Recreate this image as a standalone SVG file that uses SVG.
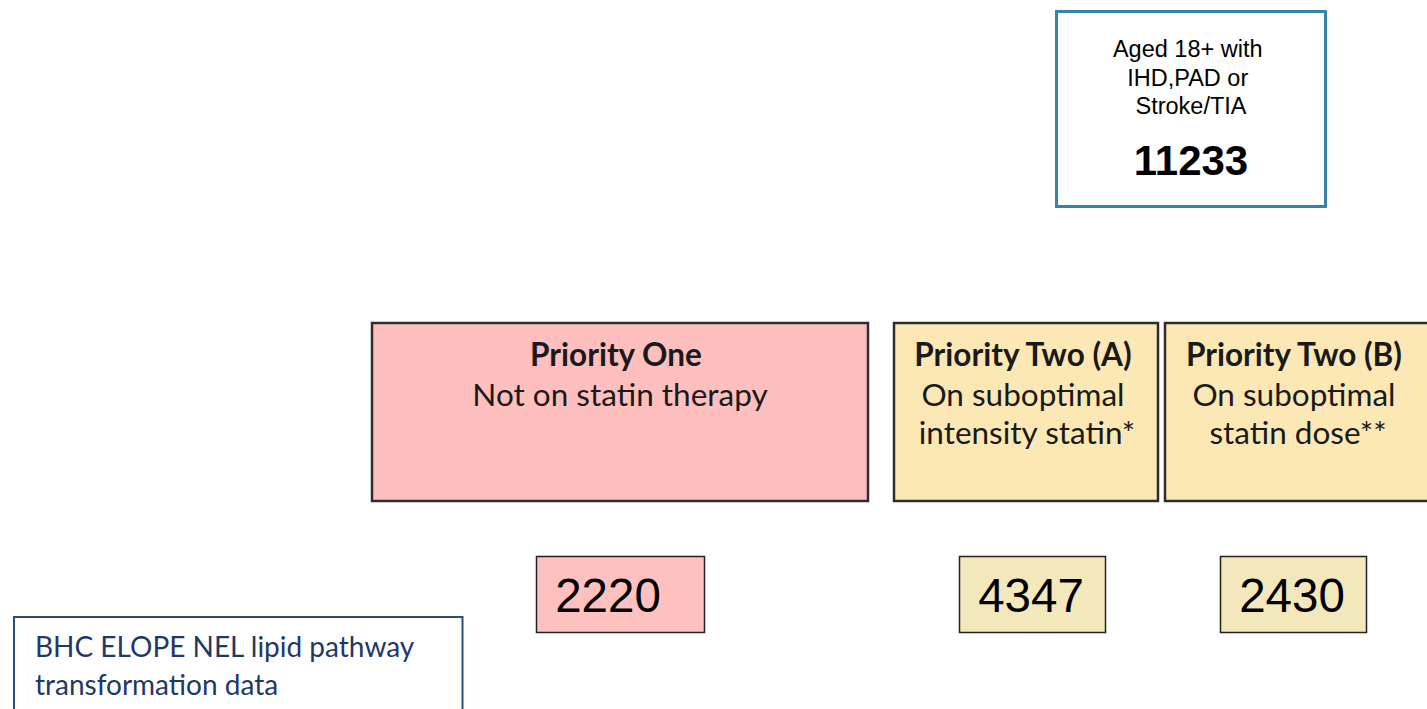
<svg xmlns="http://www.w3.org/2000/svg" width="1427" height="709" viewBox="0 0 1427 709">
  <style>
    .sans { font-family: "Liberation Sans", Arial, sans-serif; fill: #000; }
    .cal { font-family: Lato, "Open Sans", sans-serif; fill: #1a1a1a; }
    .cat { stroke: #2e2e2e; stroke-width: 2.5; }
    .p1 { fill: #ffbfbf; }
    .p2 { fill: #fce8b4; }
    .num { stroke: #222; stroke-width: 1.5; }
    .n1 { fill: #ffc0c0; }
    .n2 { fill: #f2e8bc; }
    .big { font-size: 47.5px; }
  </style>

  <!-- cohort total -->
  <g id="cohort">
    <rect x="1056.5" y="11.5" width="269" height="195" fill="#fff" stroke="#3585ab" stroke-width="3"/>
    <text class="sans" font-size="23.5" text-anchor="middle">
      <tspan x="1191" y="57">Aged 18+ with</tspan>
      <tspan x="1191" y="86">IHD,PAD or</tspan>
      <tspan x="1191" y="114">Stroke/TIA</tspan>
    </text>
    <text class="sans" x="1191" y="175" font-size="42" font-weight="bold" text-anchor="middle">11233</text>
  </g>

  <!-- priority categories -->
  <g id="priority-one">
    <rect class="cat p1" x="372" y="323" width="496" height="178"/>
    <text class="cal" font-size="31.5" text-anchor="middle">
      <tspan x="620" y="366" font-weight="bold">Priority One</tspan>
      <tspan x="620" y="406">Not on statin therapy</tspan>
    </text>
  </g>

  <g id="priority-two-a">
    <rect class="cat p2" x="894" y="323" width="264" height="178"/>
    <text class="cal" font-size="31.5" text-anchor="middle">
      <tspan x="1027" y="366" font-weight="bold">Priority Two (A)</tspan>
      <tspan x="1027" y="406">On suboptimal</tspan>
      <tspan x="1027" y="444">intensity statin*</tspan>
    </text>
  </g>

  <g id="priority-two-b">
    <rect class="cat p2" x="1165" y="323" width="270" height="178"/>
    <text class="cal" font-size="31.5" text-anchor="middle">
      <tspan x="1298" y="366" font-weight="bold">Priority Two (B)</tspan>
      <tspan x="1298" y="406">On suboptimal</tspan>
      <tspan x="1298" y="444">statin dose**</tspan>
    </text>
  </g>

  <!-- counts -->
  <g id="count-one">
    <rect class="num n1" x="536.5" y="556.5" width="168" height="76"/>
    <text class="sans big" x="608" y="612" text-anchor="middle">2220</text>
  </g>
  <g id="count-two-a">
    <rect class="num n2" x="959.5" y="556.5" width="146" height="76"/>
    <text class="sans big" x="1031" y="612" text-anchor="middle">4347</text>
  </g>
  <g id="count-two-b">
    <rect class="num n2" x="1220.5" y="556.5" width="146" height="76"/>
    <text class="sans big" x="1292" y="612" text-anchor="middle">2430</text>
  </g>

  <!-- source note -->
  <g id="source">
    <rect x="14" y="617" width="448.5" height="110" fill="#fff" stroke="#2d4b78" stroke-width="2"/>
    <text class="cal" font-size="28" style="fill:#1f3864">
      <tspan x="35" y="657">BHC ELOPE NEL lipid pathway</tspan>
      <tspan x="35" y="695">transformation data</tspan>
    </text>
  </g>
</svg>
